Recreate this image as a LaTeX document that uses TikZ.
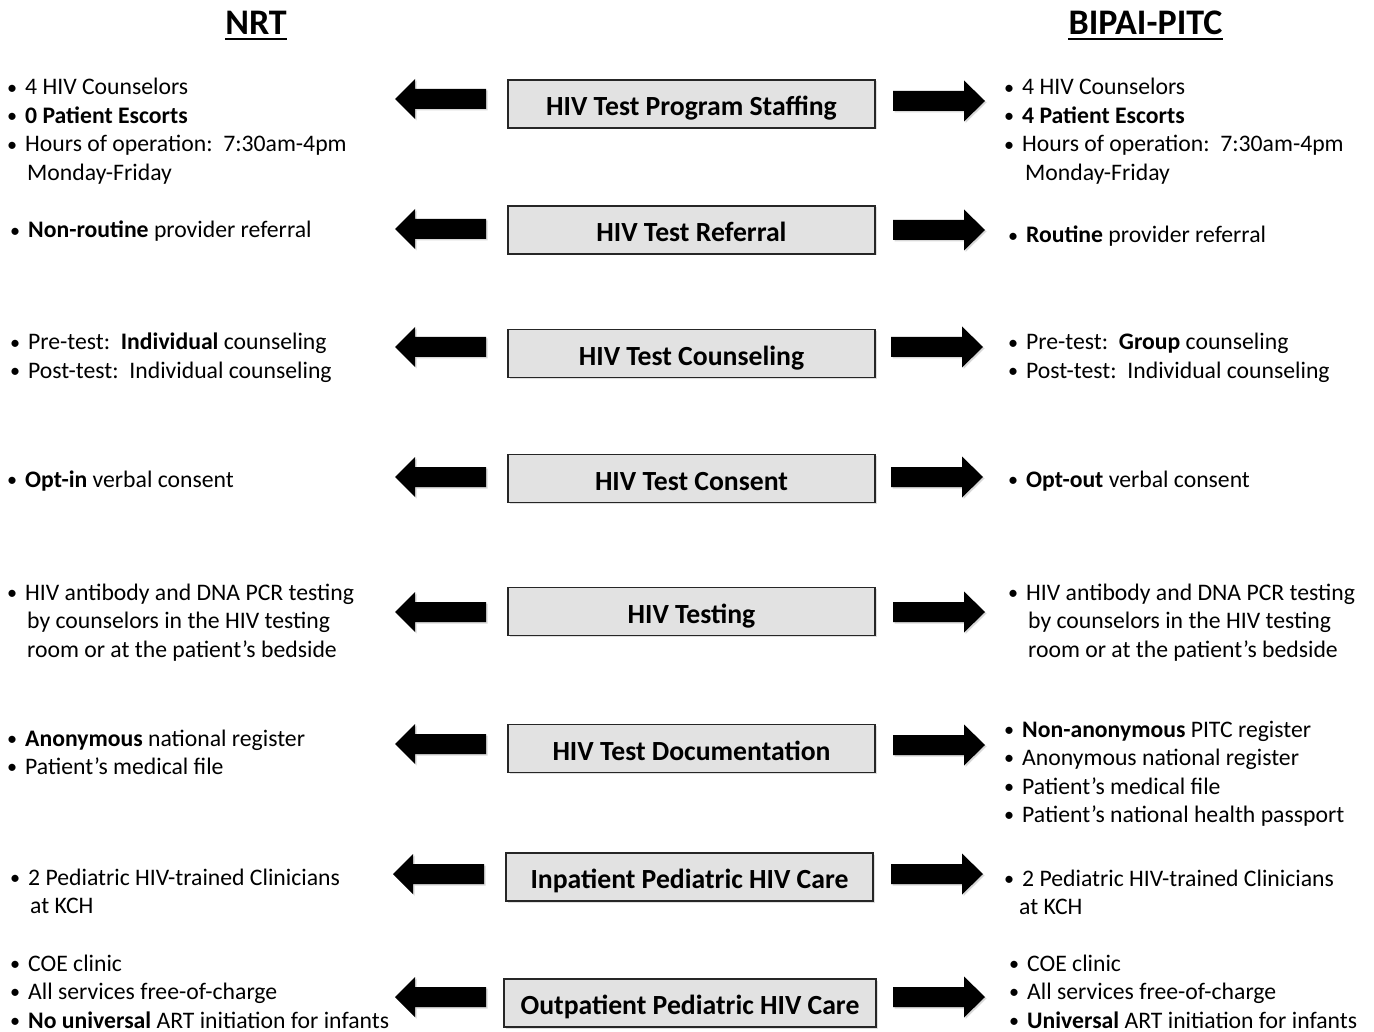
\documentclass[tikz,border=0pt]{standalone}
\usepackage{fontspec}
\setmainfont{Carlito}
\usetikzlibrary{shadows}
\tikzset{
  hdr/.style={font=\fontsize{36}{42}\selectfont\bfseries, inner sep=0pt, anchor=base},
  body/.style={font=\fontsize{23.7}{28.5}\selectfont, inner sep=0pt, anchor=base west, yshift=-1pt},
  titlebox/.style={draw=black!85, line width=1.6pt, fill={rgb,255:red,226;green,226;blue,226},
    minimum width=367pt, minimum height=48pt, inner sep=0pt, text height=28.5pt, text depth=5pt,
    font=\fontsize{27.7}{32}\selectfont\bfseries,
    drop shadow={opacity=0.25,shadow xshift=1.5pt,shadow yshift=-1.5pt}},
  blockarrow/.style={fill=black, drop shadow={opacity=0.3,shadow xshift=1.5pt,shadow yshift=-1.5pt}},
}
\newcommand\itembul{\llap{\raisebox{0.8pt}{\scalebox{0.85}{\textbullet}}\hspace{8pt}}}
\newcommand\blines[1]{\begin{tabular}[t]{@{}l@{}}#1\end{tabular}}
\newcommand\myleftarr[2]{%
  \fill[blockarrow] (#1,#2) -- ++(20,-20) -- ++(0,10) -- ++(71,0) -- ++(0,20) -- ++(-71,0) -- ++(0,10) -- cycle;}
\newcommand\myrightarr[2]{%
  \fill[blockarrow] (#1,#2) -- ++(-21,-20.5) -- ++(0,10.5) -- ++(-71,0) -- ++(0,20) -- ++(71,0) -- ++(0,10.5) -- cycle;}
\begin{document}
\begin{tikzpicture}[x=1pt,y=-1pt]
\useasboundingbox (0,0) rectangle (1374,1032);
\fill[white] (0,0) rectangle (1374,1032);

% headers
\node[hdr] (hl) at (256,34.5) {NRT};
\node[hdr] (hr) at (1145.5,34.5) {BIPAI-PITC};
\draw[line width=2pt] ([yshift=-5pt]hl.base west) -- ([yshift=-5pt]hl.base east);
\draw[line width=2pt] ([yshift=-5pt]hr.base west) -- ([yshift=-5pt]hr.base east);

% central boxes
\node[titlebox] (b1) at (691.5,104) {HIV Test Program Staffing};
\node[titlebox] (b2) at (691.5,230) {HIV Test Referral};
\node[titlebox] (b3) at (691.5,353.5) {HIV Test Counseling};
\node[titlebox] (b4) at (691.5,478.5) {HIV Test Consent};
\node[titlebox] (b5) at (691.5,611.5) {HIV Testing};
\node[titlebox] (b6) at (691.5,748.5) {HIV Test Documentation};
\node[titlebox] (b7) at (689.5,877) {Inpatient Pediatric HIV Care};
\node[titlebox, minimum width=372pt] (b8) at (690,1003) {Outpatient Pediatric HIV Care};

% arrows
\myleftarr{395}{99}   \myrightarr{985}{101}
\myleftarr{395}{229}  \myrightarr{985}{230}
\myleftarr{395}{347}  \myrightarr{983}{347}
\myleftarr{395}{477}  \myrightarr{983}{477}
\myleftarr{395}{612}  \myrightarr{985}{612}
\myleftarr{395}{744}  \myrightarr{985}{745}
\myleftarr{393}{874}  \myrightarr{983}{874}
\myleftarr{395}{997}  \myrightarr{985}{997}

% left texts
\node[body] (l1) at (25,94) {\blines{\itembul 4 HIV Counselors\\ \itembul\textbf{0 Patient Escorts}\\ \itembul Hours of operation:\ \ 7:30am-4pm\\ \hspace*{2pt}Monday-Friday}};
\node[body] (l2) at (28,237) {\blines{\itembul\textbf{Non-routine} provider referral}};
\node[body] (l3) at (28,349) {\blines{\itembul Pre-test:\ \ \textbf{Individual} counseling\\ \itembul Post-test:\ \ Individual counseling}};
\node[body] (l4) at (25,486) {\blines{\itembul\textbf{Opt-in} verbal consent}};
\node[body] (l5) at (25,599) {\blines{\itembul HIV antibody and DNA PCR testing\\ \hspace*{2pt}by counselors in the HIV testing\\ \hspace*{2pt}room or at the patient’s bedside}};
\node[body] (l6) at (25,745) {\blines{\itembul\textbf{Anonymous} national register\\ \itembul Patient’s medical file}};
\node[body] (l7) at (28,884) {\blines{\itembul 2 Pediatric HIV-trained Clinicians\\ \hspace*{2pt}at KCH}};
\node[body] (l8) at (28,970) {\blines{\itembul COE clinic\\ \itembul All services free-of-charge\\ \itembul\textbf{No universal} ART initiation for infants}};

% right texts
\node[body] (r1) at (1022,94) {\blines{\itembul 4 HIV Counselors\\ \itembul\textbf{4 Patient Escorts}\\ \itembul Hours of operation:\ \ 7:30am-4pm\\ \hspace*{3pt}Monday-Friday}};
\node[body] (r2) at (1026,242) {\blines{\itembul\textbf{Routine} provider referral}};
\node[body] (r3) at (1026,349) {\blines{\itembul Pre-test:\ \ \textbf{Group} counseling\\ \itembul Post-test:\ \ Individual counseling}};
\node[body] (r4) at (1026,486) {\blines{\itembul\textbf{Opt-out} verbal consent}};
\node[body] (r5) at (1026,599) {\blines{\itembul HIV antibody and DNA PCR testing\\ \hspace*{2pt}by counselors in the HIV testing\\ \hspace*{2pt}room or at the patient’s bedside}};
\node[body] (r6) at (1022,736) {\blines{\itembul\textbf{Non-anonymous} PITC register\\ \itembul Anonymous national register\\ \itembul Patient’s medical file\\ \itembul Patient’s national health passport}};
\node[body] (r7) at (1022,885) {\blines{\itembul 2 Pediatric HIV-trained Clinicians\\ \hspace*{-3pt}at KCH}};
\node[body] (r8) at (1027,970) {\blines{\itembul COE clinic\\ \itembul All services free-of-charge\\ \itembul\textbf{Universal} ART initiation for infants}};
\end{tikzpicture}
\end{document}
